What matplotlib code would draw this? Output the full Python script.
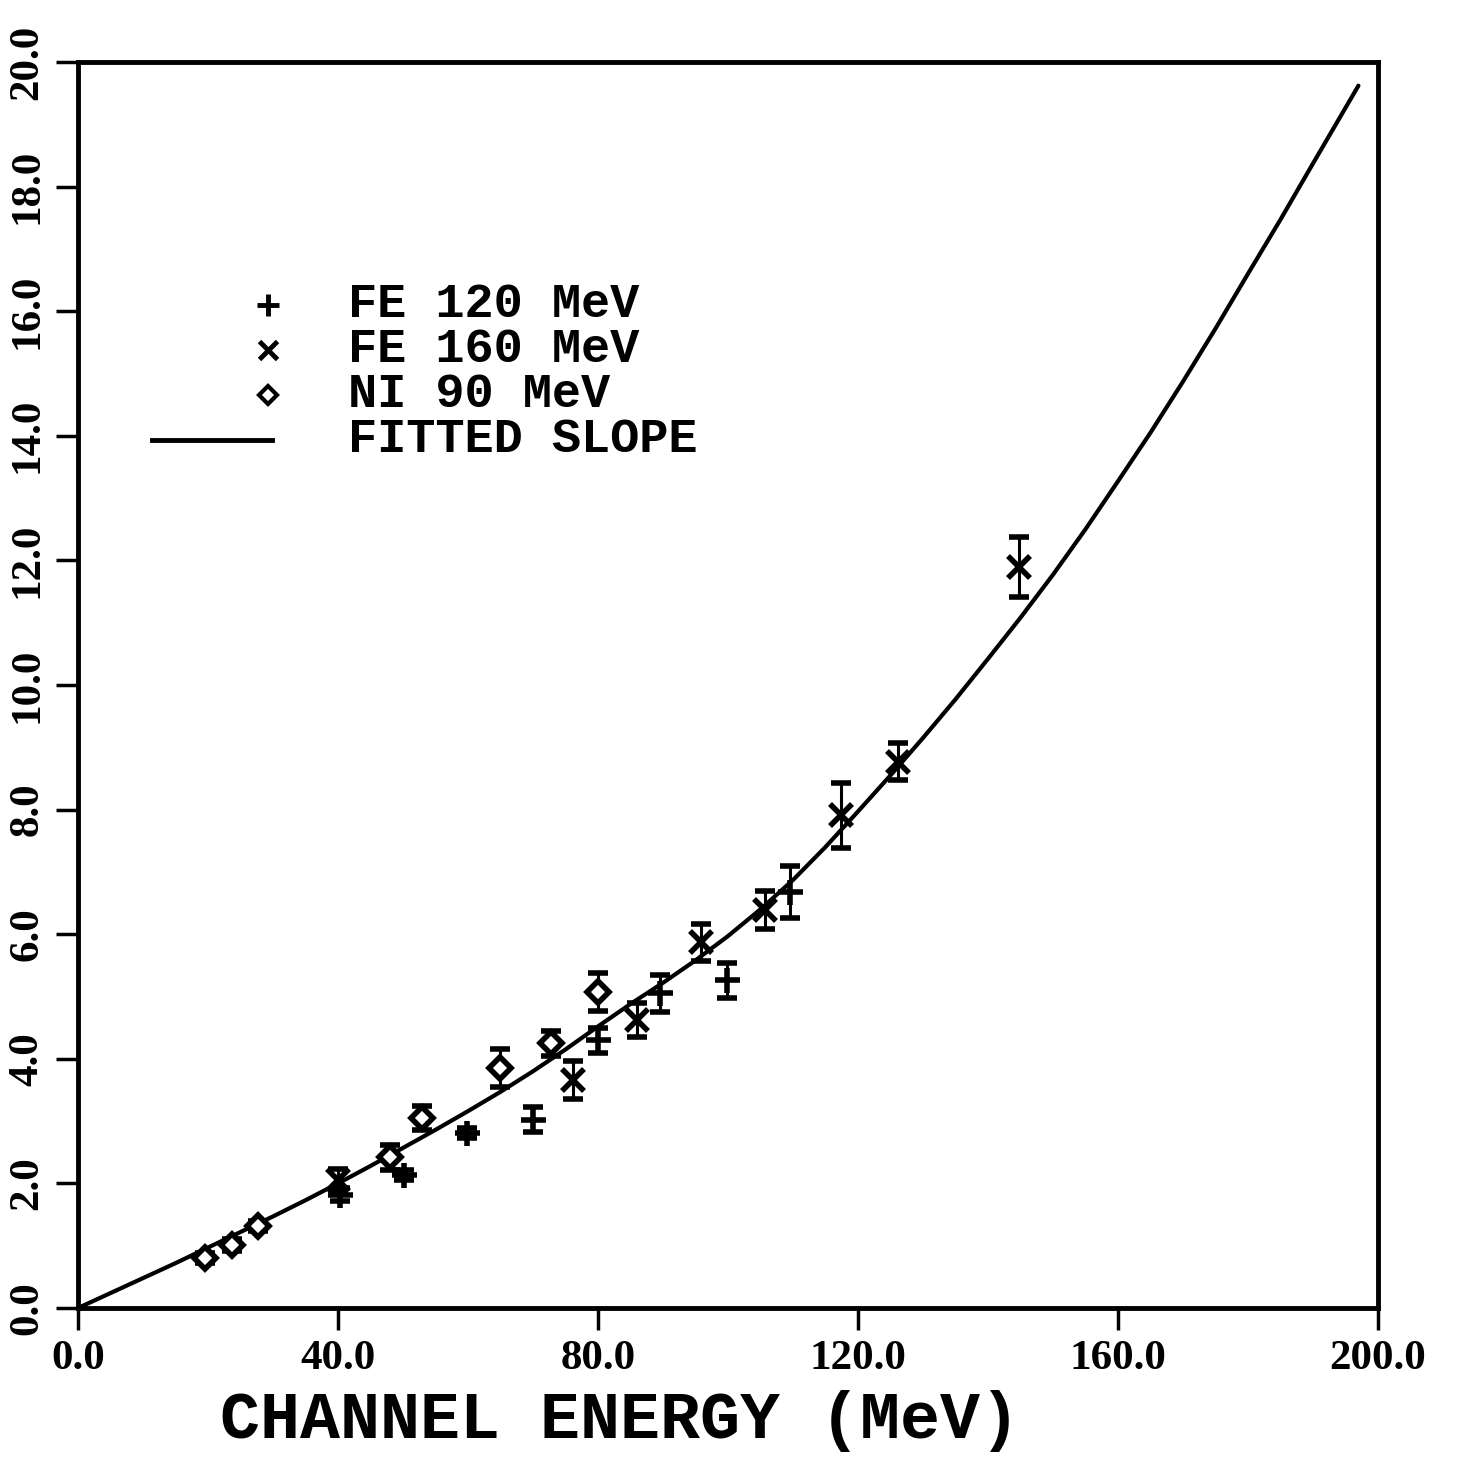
import matplotlib
matplotlib.use("Agg")
import matplotlib.pyplot as plt
import numpy as np

# FE 120 MeV (+)
fe120_x = [40.3, 50.2, 59.8, 70.0, 80.0, 89.5, 99.8, 109.5]
fe120_y = [1.82, 2.13, 2.81, 3.02, 4.30, 5.05, 5.26, 6.68]
fe120_err = [0.10, 0.08, 0.08, 0.20, 0.20, 0.30, 0.28, 0.42]

# FE 160 MeV (x)
fe160_x = [40.0, 76.2, 86.0, 95.8, 105.7, 117.4, 126.2, 144.8]
fe160_y = [2.05, 3.66, 4.62, 5.87, 6.39, 7.91, 8.77, 11.90]
fe160_err = [0.18, 0.30, 0.27, 0.30, 0.30, 0.52, 0.30, 0.48]

# NI 90 MeV (diamond)
ni90_x = [19.5, 23.7, 27.7, 48.0, 52.9, 64.9, 72.8, 80.0]
ni90_y = [0.80, 1.01, 1.32, 2.42, 3.05, 3.85, 4.25, 5.07]
ni90_err = [0.08, 0.10, 0.08, 0.20, 0.20, 0.30, 0.20, 0.30]

# Fitted slope curve
fit_x = [0, 5, 10, 15, 20, 25, 30, 35, 40, 45, 50, 55, 60, 65, 70, 75, 80,
         85, 90, 95, 100, 105, 110, 115, 120, 125, 130, 135, 140, 145, 150,
         155, 160, 165, 170, 175, 180, 185, 190, 197]
fit_y = [0.0, 0.24, 0.48, 0.72, 0.97, 1.22, 1.47, 1.73, 2.0, 2.28, 2.57,
         2.86, 3.16, 3.47, 3.80, 4.15, 4.52, 4.88, 5.22, 5.58, 5.97, 6.40,
         6.87, 7.40, 7.97, 8.55, 9.15, 9.77, 10.42, 11.08, 11.77, 12.50,
         13.27, 14.05, 14.87, 15.72, 16.60, 17.47, 18.37, 19.62]

x_ticks = [0, 40, 80, 120, 160, 200]
x_ticklabels = ["0.0", "40.0", "80.0", "120.0", "160.0", "200.0"]
y_ticks = [0, 2, 4, 6, 8, 10, 12, 14, 16, 18, 20]
y_ticklabels = ["0.0", "2.0", "4.0", "6.0", "8.0", "10.0", "12.0", "14.0",
                "16.0", "18.0", "20.0"]
legend_labels = ["FE 120 MeV", "FE 160 MeV", "NI 90 MeV", "FITTED SLOPE"]

fig = plt.figure(figsize=(14.62, 14.59), dpi=100)
ax = fig.add_axes([0.0534, 0.1035, 0.8891, 0.854])

ax.plot(fit_x, fit_y, color="black", lw=3.0, solid_capstyle="round",
        solid_joinstyle="round")

ekw = dict(ecolor="black", elinewidth=2.2, capsize=7, capthick=4, ls="none")
ax.errorbar(fe120_x, fe120_y, yerr=fe120_err, fmt="+", color="black",
            ms=18, mew=4, **ekw)
ax.errorbar(fe160_x, fe160_y, yerr=fe160_err, fmt="x", color="black",
            ms=16, mew=4, **ekw)
ax.errorbar(ni90_x, ni90_y, yerr=ni90_err, fmt="D", color="black",
            mfc="white", ms=11, mew=4, **ekw)

ax.set_xlim(0, 200)
ax.set_ylim(0, 20)
ax.set_xticks(x_ticks)
ax.set_xticklabels(x_ticklabels, family="Liberation Serif", weight="bold",
                   fontsize=31)
ax.set_yticks(y_ticks)
ax.set_yticklabels(y_ticklabels, family="Liberation Serif", weight="bold",
                   fontsize=31, rotation=90, va="center")
ax.tick_params(axis="both", direction="out", length=16, width=2.5, pad=7)
for s in ax.spines.values():
    s.set_linewidth(3.5)

ax.set_xlabel("CHANNEL ENERGY (MeV)", family="Liberation Mono", weight="bold",
              fontsize=48, labelpad=6)
ax.xaxis.set_label_coords(0.417, -0.066)

# Legend (manual)
lx_mark = 0.146
lx_text = 0.208
ly = [0.805, 0.769, 0.733, 0.697]
fs = 35
ax.plot([lx_mark], [ly[0]], marker="+", ms=16, mew=3.5, color="black",
        transform=ax.transAxes)
ax.plot([lx_mark], [ly[1]], marker="x", ms=13, mew=3.5, color="black",
        transform=ax.transAxes)
ax.plot([lx_mark], [ly[2]], marker="D", ms=9, mew=3, mfc="white",
        color="black", transform=ax.transAxes)
ax.plot([0.057, 0.149], [ly[3], ly[3]], color="black", lw=3.5,
        transform=ax.transAxes)
for y, lab in zip(ly, legend_labels):
    ax.text(lx_text, y, lab, transform=ax.transAxes, family="Liberation Mono",
            weight="bold", fontsize=fs, va="center", ha="left")

fig.savefig("out.png", dpi=100)
